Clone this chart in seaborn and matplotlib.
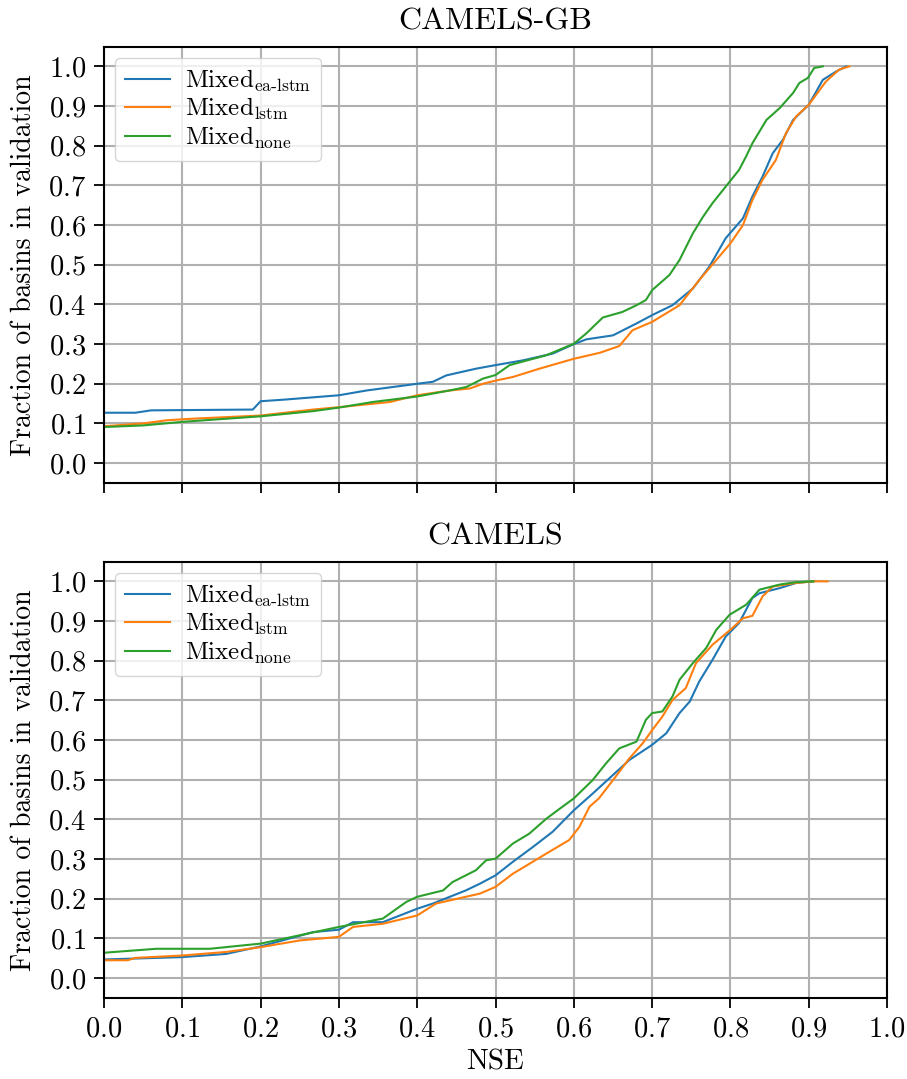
import matplotlib
matplotlib.use("Agg")
import matplotlib.pyplot as plt
import seaborn as sns
import pandas as pd

# CAMELS-GB: (NSE, fraction of basins)
gb_ea_x = [0.0, 0.04, 0.06, 0.19, 0.2, 0.23, 0.3, 0.335, 0.4, 0.42, 0.437, 0.475, 0.5, 0.535, 0.573, 0.6, 0.616, 0.65, 0.68, 0.7, 0.726, 0.752, 0.773, 0.794, 0.816, 0.828, 0.841, 0.854, 0.867, 0.88, 0.9, 0.918, 0.935, 0.948]
gb_ea_y = [0.127, 0.127, 0.133, 0.135, 0.156, 0.16, 0.171, 0.183, 0.2, 0.205, 0.221, 0.238, 0.247, 0.259, 0.276, 0.3, 0.312, 0.322, 0.352, 0.373, 0.398, 0.44, 0.495, 0.567, 0.617, 0.672, 0.722, 0.781, 0.815, 0.865, 0.903, 0.966, 0.987, 1.0]
gb_lstm_x = [0.0, 0.05, 0.08, 0.114, 0.2, 0.267, 0.3, 0.365, 0.4, 0.441, 0.467, 0.484, 0.5, 0.522, 0.556, 0.6, 0.633, 0.658, 0.675, 0.7, 0.735, 0.76, 0.782, 0.8, 0.816, 0.828, 0.841, 0.858, 0.871, 0.884, 0.9, 0.922, 0.939, 0.952]
gb_lstm_y = [0.093, 0.1, 0.108, 0.112, 0.12, 0.135, 0.141, 0.154, 0.171, 0.183, 0.188, 0.2, 0.208, 0.217, 0.238, 0.263, 0.278, 0.295, 0.335, 0.356, 0.398, 0.461, 0.512, 0.554, 0.6, 0.663, 0.714, 0.764, 0.832, 0.874, 0.903, 0.962, 0.992, 1.0]
gb_none_x = [0.0, 0.05, 0.1, 0.2, 0.267, 0.3, 0.343, 0.4, 0.441, 0.463, 0.484, 0.5, 0.518, 0.565, 0.6, 0.616, 0.637, 0.662, 0.68, 0.692, 0.7, 0.722, 0.735, 0.752, 0.765, 0.777, 0.794, 0.811, 0.82, 0.828, 0.846, 0.863, 0.88, 0.888, 0.899, 0.907, 0.918]
gb_none_y = [0.091, 0.095, 0.104, 0.118, 0.131, 0.14, 0.154, 0.168, 0.183, 0.192, 0.213, 0.222, 0.247, 0.272, 0.301, 0.327, 0.367, 0.381, 0.398, 0.411, 0.436, 0.474, 0.512, 0.579, 0.621, 0.655, 0.697, 0.739, 0.773, 0.806, 0.865, 0.895, 0.933, 0.958, 0.971, 0.996, 1.0]

# CAMELS (US)
us_ea_x = [0.0, 0.1, 0.156, 0.2, 0.267, 0.3, 0.318, 0.356, 0.4, 0.42, 0.462, 0.48, 0.5, 0.522, 0.548, 0.573, 0.6, 0.624, 0.65, 0.671, 0.7, 0.718, 0.735, 0.748, 0.76, 0.777, 0.794, 0.811, 0.828, 0.837, 0.863, 0.884, 0.906]
us_ea_y = [0.047, 0.053, 0.061, 0.08, 0.116, 0.122, 0.141, 0.141, 0.175, 0.188, 0.221, 0.238, 0.259, 0.293, 0.331, 0.369, 0.423, 0.465, 0.512, 0.55, 0.588, 0.617, 0.668, 0.697, 0.747, 0.802, 0.861, 0.895, 0.958, 0.97, 0.983, 0.996, 1.0]
us_lstm_x = [0.0, 0.03, 0.04, 0.1, 0.156, 0.2, 0.25, 0.3, 0.318, 0.356, 0.4, 0.424, 0.462, 0.48, 0.5, 0.522, 0.565, 0.594, 0.607, 0.62, 0.632, 0.65, 0.671, 0.688, 0.7, 0.713, 0.726, 0.743, 0.756, 0.777, 0.8, 0.816, 0.828, 0.841, 0.854, 0.884, 0.906, 0.924]
us_lstm_y = [0.045, 0.045, 0.051, 0.057, 0.066, 0.078, 0.095, 0.104, 0.129, 0.137, 0.158, 0.188, 0.205, 0.213, 0.23, 0.263, 0.314, 0.348, 0.381, 0.432, 0.453, 0.499, 0.554, 0.592, 0.625, 0.659, 0.701, 0.731, 0.794, 0.84, 0.878, 0.907, 0.913, 0.962, 0.987, 0.996, 1.0, 1.0]
us_none_x = [0.0, 0.067, 0.135, 0.2, 0.3, 0.356, 0.386, 0.4, 0.433, 0.445, 0.475, 0.488, 0.5, 0.522, 0.543, 0.565, 0.582, 0.6, 0.624, 0.641, 0.658, 0.68, 0.692, 0.7, 0.713, 0.726, 0.735, 0.752, 0.769, 0.782, 0.799, 0.82, 0.837, 0.863, 0.884, 0.906]
us_none_y = [0.064, 0.074, 0.074, 0.087, 0.129, 0.15, 0.192, 0.205, 0.221, 0.242, 0.272, 0.297, 0.301, 0.339, 0.364, 0.402, 0.427, 0.453, 0.499, 0.541, 0.579, 0.596, 0.651, 0.668, 0.672, 0.71, 0.752, 0.794, 0.832, 0.878, 0.916, 0.941, 0.979, 0.992, 0.998, 1.0]

labels = [r"Mixed$_{\mathrm{ea\text{-}lstm}}$", r"Mixed$_{\mathrm{lstm}}$", r"Mixed$_{\mathrm{none}}$"]
titles = ["CAMELS-GB", "CAMELS"]
x_ticks = [0.0, 0.1, 0.2, 0.3, 0.4, 0.5, 0.6, 0.7, 0.8, 0.9, 1.0]
y_ticks = [0.0, 0.1, 0.2, 0.3, 0.4, 0.5, 0.6, 0.7, 0.8, 0.9, 1.0]

datasets = [
    [(gb_ea_x, gb_ea_y), (gb_lstm_x, gb_lstm_y), (gb_none_x, gb_none_y)],
    [(us_ea_x, us_ea_y), (us_lstm_x, us_lstm_y), (us_none_x, us_none_y)],
]

plt.rcParams["font.family"] = ["cmr10", "DejaVu Serif"]
plt.rcParams["mathtext.fontset"] = "cm"
plt.rcParams["axes.formatter.use_mathtext"] = True
plt.rcParams["font.size"] = 20
plt.rcParams["axes.unicode_minus"] = False

fig = plt.figure(figsize=(9.07, 10.79), dpi=100)
ax_top = fig.add_axes([0.1147, 0.5524, 0.8633, 0.4045])
ax_bot = fig.add_axes([0.1147, 0.0751, 0.8633, 0.4045], sharex=ax_top)
palette = sns.color_palette("tab10", 3)

for ax, title, series in zip([ax_top, ax_bot], titles, datasets):
    for (xs, ys), label, color in zip(series, labels, palette):
        df = pd.DataFrame({"NSE": xs, "frac": ys})
        sns.lineplot(data=df, x="NSE", y="frac", ax=ax, color=color, label=label,
                     estimator=None, sort=False, linewidth=1.5)
    ax.set_xlim(0, 1)
    ax.set_ylim(-0.05, 1.05)
    ax.set_xticks(x_ticks)
    ax.set_yticks(y_ticks)
    ax.grid(True, color="#b0b0b0", linewidth=1.5)
    ax.set_axisbelow(True)
    ax.set_title(title, fontsize=23, pad=12)
    ax.set_ylabel("Fraction of basins in validation", fontsize=20, labelpad=8)
    ax.tick_params(direction="out", length=7, width=1.3, labelsize=20.5, pad=6)
    for sp in ax.spines.values():
        sp.set_linewidth(1.5)
    ax.legend(loc="upper left", fontsize=18, framealpha=0.8, handlelength=1.8,
              handletextpad=0.6, labelspacing=0.08, borderaxespad=0.45,
              borderpad=0.4)

ax_top.set_xlabel("")
plt.setp(ax_top.get_xticklabels(), visible=False)
ax_bot.set_xlabel("NSE", fontsize=21, labelpad=5)

fig.savefig("out.png", dpi=100)
